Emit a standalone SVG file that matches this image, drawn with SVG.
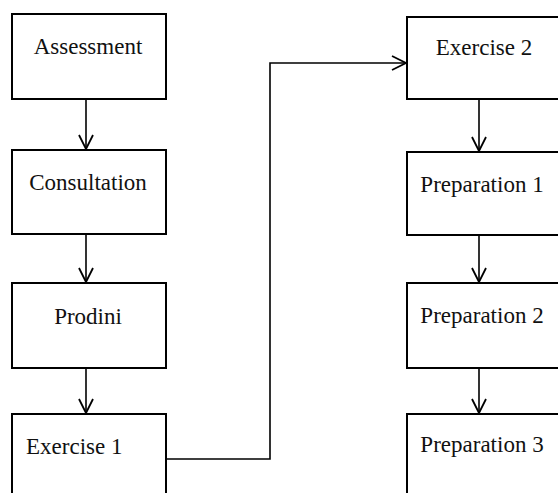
<svg xmlns="http://www.w3.org/2000/svg" width="558" height="493" viewBox="0 0 558 493">
<style>
.box{fill:#fff;stroke:#000;stroke-width:2}
.lbl{font-family:"Liberation Serif","Times New Roman",serif;font-size:23px;fill:#111}
.c{text-anchor:middle}
.conn{fill:none;stroke:#000;stroke-width:1.6}
</style>
<defs>
<marker id="arr" markerUnits="userSpaceOnUse" markerWidth="20" markerHeight="20" viewBox="-16 -10 20 20" refX="0" refY="0" orient="auto">
<path d="M-14,-7 L0,0 L-14,7" fill="none" stroke="#000" stroke-width="1.8"/>
</marker>
</defs>
<rect width="558" height="493" fill="#fff"/>
<g id="connectors">
<path class="conn" d="M86,99 V149" marker-end="url(#arr)"/>
<path class="conn" d="M86,234 V282" marker-end="url(#arr)"/>
<path class="conn" d="M86,368 V413" marker-end="url(#arr)"/>
<path class="conn" d="M166,459 H270 V63 H406" marker-end="url(#arr)"/>
<path class="conn" d="M479,99 V151" marker-end="url(#arr)"/>
<path class="conn" d="M479,235 V282" marker-end="url(#arr)"/>
<path class="conn" d="M479,368 V413" marker-end="url(#arr)"/>
</g>
<g id="assessment"><rect class="box" x="12" y="14" width="154" height="85"/><text class="lbl c" x="88" y="54">Assessment</text></g>
<g id="consultation"><rect class="box" x="12" y="150" width="154" height="84"/><text class="lbl c" x="88" y="190">Consultation</text></g>
<g id="prodini"><rect class="box" x="12" y="283" width="154" height="85"/><text class="lbl c" x="88" y="324">Prodini</text></g>
<g id="exercise1"><rect class="box" x="12" y="414" width="154" height="90"/><text class="lbl" x="26" y="454">Exercise 1</text></g>
<g id="exercise2"><rect class="box" x="407" y="17" width="154" height="82"/><text class="lbl c" x="484" y="55">Exercise 2</text></g>
<g id="preparation1"><rect class="box" x="407" y="152" width="154" height="83"/><text class="lbl c" x="482" y="192">Preparation 1</text></g>
<g id="preparation2"><rect class="box" x="407" y="283" width="154" height="85"/><text class="lbl c" x="482" y="323">Preparation 2</text></g>
<g id="preparation3"><rect class="box" x="407" y="414" width="154" height="90"/><text class="lbl c" x="482" y="452">Preparation 3</text></g>
</svg>
